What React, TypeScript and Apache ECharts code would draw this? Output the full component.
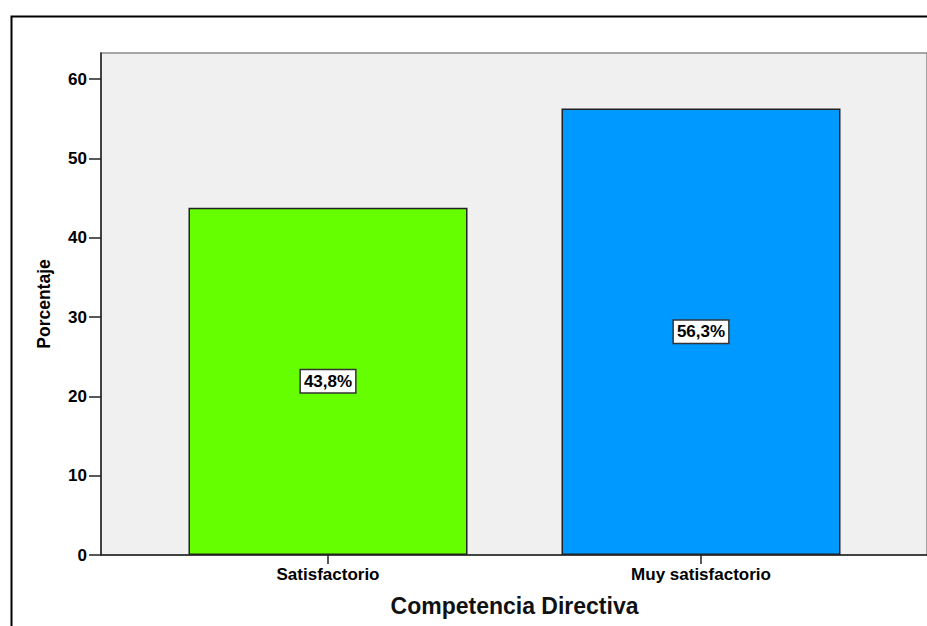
import React, { useEffect, useRef } from "react";
import * as echarts from "echarts";

const categories: string[] = ["Satisfactorio", "Muy satisfactorio"];
const percentages: number[] = [43.8, 56.3];
const barColors: string[] = ["#66ff00", "#0099ff"];
const yTicks: number[] = [0, 10, 20, 30, 40, 50, 60];
const yMax = 63.3;
const xTitle = "Competencia Directiva";
const yTitle = "Porcentaje";

const FONT = "'Liberation Sans', Arial, sans-serif";

export default function App() {
  const ref = useRef<HTMLDivElement>(null);

  useEffect(() => {
    if (!ref.current) return;
    const chart = echarts.init(ref.current, undefined, { renderer: "svg" });

    const option: echarts.EChartsOption = {
      animation: false,
      backgroundColor: "#ffffff",
      textStyle: { fontFamily: FONT },
      graphic: [
        {
          type: "rect",
          left: 9,
          top: 14,
          shape: { x: 0, y: 0, width: 1000, height: 1000 },
          style: { fill: "none", stroke: "#000000", lineWidth: 2 },
          silent: true,
          z: -1,
        },
      ],
      grid: [
        {
          // plot frame with the percentage axis
          left: 101,
          top: 53,
          right: -30,
          bottom: 71,
          show: true,
          backgroundColor: "#f0f0f0",
          borderColor: "#8a8a8a",
          borderWidth: 1.5,
        },
        {
          // category bands holding the bars
          left: 141.5,
          width: 746,
          top: 53,
          bottom: 71,
          show: false,
        },
      ],
      xAxis: [
        {
          gridIndex: 0,
          type: "value",
          min: 0,
          max: 1,
          axisLine: { show: true, lineStyle: { color: "#222222", width: 1.5 } },
          axisTick: { show: false },
          axisLabel: { show: false },
          splitLine: { show: false },
        },
        {
          gridIndex: 1,
          type: "category",
          data: categories,
          axisLine: { show: false },
          axisTick: {
            show: true,
            alignWithLabel: true,
            length: 9,
            lineStyle: { color: "#222222", width: 1.5 },
          },
          axisLabel: {
            margin: 11,
            fontSize: 17,
            fontWeight: "bold",
            color: "#000000",
            fontFamily: FONT,
          },
          name: xTitle,
          nameLocation: "middle",
          nameGap: 39,
          nameTextStyle: {
            fontSize: 23,
            fontWeight: "bold",
            color: "#111111",
            fontFamily: FONT,
          },
        },
      ],
      yAxis: [
        {
          gridIndex: 0,
          type: "value",
          min: 0,
          max: yMax,
          interval: 10,
          axisLine: { show: true, lineStyle: { color: "#222222", width: 1.5 } },
          axisTick: {
            show: true,
            length: 12,
            customValues: yTicks,
            lineStyle: { color: "#222222", width: 1.5 },
          },
          axisLabel: {
            margin: 14,
            customValues: yTicks,
            fontSize: 17,
            fontWeight: "bold",
            color: "#000000",
            fontFamily: FONT,
          },
          splitLine: { show: false },
          name: yTitle,
          nameLocation: "middle",
          nameGap: 48,
          nameTextStyle: {
            fontSize: 17.5,
            fontWeight: "bold",
            color: "#000000",
            fontFamily: FONT,
          },
        },
        {
          gridIndex: 1,
          type: "value",
          min: 0,
          max: yMax,
          show: false,
          splitLine: { show: false },
        },
      ],
      series: [
        {
          type: "bar",
          xAxisIndex: 1,
          yAxisIndex: 1,
          barWidth: 279,
          data: percentages.map((v, i) => ({
            value: v,
            itemStyle: { color: barColors[i] },
          })),
          itemStyle: { borderColor: "#222222", borderWidth: 1.5 },
          label: {
            show: true,
            position: "inside",
            formatter: (p: any) => `${Number(p.value).toFixed(1).replace(".", ",")}%`,
            fontSize: 17,
            fontWeight: "bold",
            color: "#000000",
            fontFamily: FONT,
            backgroundColor: "#ffffff",
            borderColor: "#333333",
            borderWidth: 1.5,
            padding: [3, 3, 2, 3],
            lineHeight: 17,
          },
        },
      ],
    };

    chart.setOption(option);
    return () => chart.dispose();
  }, []);

  return (
    <div
      ref={ref}
      style={{ position: "absolute", left: 0, top: 0, width: 927, height: 626 }}
    />
  );
}
